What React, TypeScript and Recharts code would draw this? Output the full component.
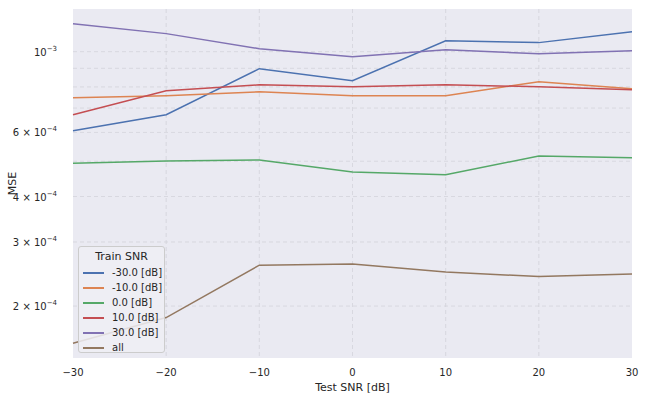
import React from "react";
import {
  LineChart,
  Line,
  XAxis,
  YAxis,
  CartesianGrid,
  Legend,
} from "recharts";

// Test SNR values on the x axis
const testSnr = [-30, -20, -10, 0, 10, 20, 30];
const innerX = [-20, -10, 0, 10, 20];
const xDomain = [-30, 30];

// MSE per train SNR
const mseM30 = [6.06e-4, 6.71e-4, 8.98e-4, 8.32e-4, 1.072e-3, 1.059e-3, 1.135e-3];
const mseM10 = [7.47e-4, 7.57e-4, 7.76e-4, 7.57e-4, 7.57e-4, 8.27e-4, 7.91e-4];
const mse0 = [4.94e-4, 5.01e-4, 5.04e-4, 4.67e-4, 4.59e-4, 5.17e-4, 5.11e-4];
const mse10 = [6.71e-4, 7.81e-4, 8.11e-4, 8.01e-4, 8.11e-4, 8.01e-4, 7.86e-4];
const mse30 = [1.194e-3, 1.121e-3, 1.019e-3, 9.69e-4, 1.013e-3, 9.87e-4, 1.006e-3];
const mseAll = [1.58e-4, 1.86e-4, 2.59e-4, 2.61e-4, 2.48e-4, 2.41e-4, 2.45e-4];

const seriesNames = ["-30.0 [dB]", "-10.0 [dB]", "0.0 [dB]", "10.0 [dB]", "30.0 [dB]", "all"];
const seriesColors = ["#4C72B0", "#DD8452", "#55A868", "#C44E52", "#8172B3", "#937860"];
const seriesValues = [mseM30, mseM10, mse0, mse10, mse30, mseAll];

// y grid positions (major + minor) and which of them carry a label
const yDomain = [1.44e-4, 1.31e-3];
const yTicks = [2e-4, 3e-4, 4e-4, 5e-4, 6e-4, 7e-4, 8e-4, 9e-4, 1e-3];
const yLabels: [number, string, string][] = [
  [1e-3, "10", "−3"],
  [6e-4, "6 × 10", "−4"],
  [4e-4, "4 × 10", "−4"],
  [3e-4, "3 × 10", "−4"],
  [2e-4, "2 × 10", "−4"],
];

const data = testSnr.map((snr, i) => {
  const row: Record<string, number> = { snr };
  seriesNames.forEach((name, k) => {
    row[name] = seriesValues[k][i];
  });
  return row;
});

const font = "'DejaVu Sans', sans-serif";
const textColor = "#262626";

// grid lines only inside the plot (no lines on the frame edges)
const gridY = ({ offset }: any) => {
  const lo = Math.log10(yDomain[0]);
  const hi = Math.log10(yDomain[1]);
  return yTicks.map((t) => offset.top + (offset.height * (hi - Math.log10(t))) / (hi - lo));
};
const gridX = ({ offset }: any) =>
  innerX.map((t) => offset.left + (offset.width * (t - xDomain[0])) / (xDomain[1] - xDomain[0]));

function YTick({ x, y, payload }: any) {
  const hit = yLabels.find((l) => Math.abs(l[0] / payload.value - 1) < 1e-6);
  if (!hit) return null;
  return (
    <text x={x - 8} y={y + 4} textAnchor="end" fontSize={10} fill={textColor} fontFamily={font}>
      {hit[1]}
      <tspan fontSize={7} dy={-5}>{hit[2]}</tspan>
    </text>
  );
}

function XTick({ x, y, payload }: any) {
  const v = payload.value;
  const s = v < 0 ? "−" + Math.abs(v) : String(v);
  return (
    <text x={x} y={y + 10} textAnchor="middle" fontSize={10} fill={textColor} fontFamily={font}>
      {s}
    </text>
  );
}

function LegendBox() {
  return (
    <div
      style={{
        width: 87,
        height: 107,
        boxSizing: "border-box",
        background: "rgba(238,238,244,0.85)",
        border: "1px solid #cccccc",
        borderRadius: 3,
        fontFamily: font,
        fontSize: 10,
        color: textColor,
        padding: "3px 0 0 0",
        whiteSpace: "nowrap",
      }}
    >
      <div style={{ textAlign: "center", fontSize: 11, lineHeight: "14px", marginBottom: 1 }}>
        Train SNR
      </div>
      {seriesNames.map((name, k) => (
        <div key={name} style={{ display: "flex", alignItems: "center", height: 15 }}>
          <span
            style={{
              display: "inline-block",
              flex: "0 0 21px",
              height: 2,
              background: seriesColors[k],
              marginLeft: 4,
              marginRight: 8,
            }}
          />
          <span>{name}</span>
        </div>
      ))}
    </div>
  );
}

export default function App() {
  return (
    <div style={{ position: "absolute", left: 0, top: 0 }}>
      <LineChart
        width={648}
        height={403}
        data={data}
        margin={{ top: 9, right: 16, bottom: 0, left: 0 }}
      >
        <CartesianGrid
          fill="#EAEAF2"
          stroke="#d3d3da"
          strokeDasharray="4 3"
          strokeWidth={0.8}
          horizontalCoordinatesGenerator={gridY}
          verticalCoordinatesGenerator={gridX}
        />
        <XAxis
          dataKey="snr"
          type="number"
          domain={xDomain}
          ticks={testSnr}
          axisLine={false}
          tickLine={false}
          height={45}
          tick={<XTick />}
          label={{
            value: "Test SNR [dB]",
            position: "insideBottom",
            offset: 12,
            fontSize: 11,
            fill: textColor,
            fontFamily: font,
          }}
        />
        <YAxis
          scale="log"
          domain={yDomain}
          allowDataOverflow
          ticks={yTicks}
          axisLine={false}
          tickLine={false}
          width={73}
          tick={<YTick />}
          label={{
            value: "MSE",
            angle: -90,
            position: "insideLeft",
            offset: 12,
            fontSize: 11,
            fill: textColor,
            fontFamily: font,
            style: { textAnchor: "middle" },
          }}
        />
        <Legend
          layout="vertical"
          align="center"
          verticalAlign="middle"
          wrapperStyle={{ left: 78, top: 246, width: 87 }}
          content={() => <LegendBox />}
        />
        {seriesNames.map((name, k) => (
          <Line
            key={name}
            dataKey={name}
            name={name}
            stroke={seriesColors[k]}
            strokeWidth={1.5}
            dot={false}
            isAnimationActive={false}
          />
        ))}
      </LineChart>
    </div>
  );
}
